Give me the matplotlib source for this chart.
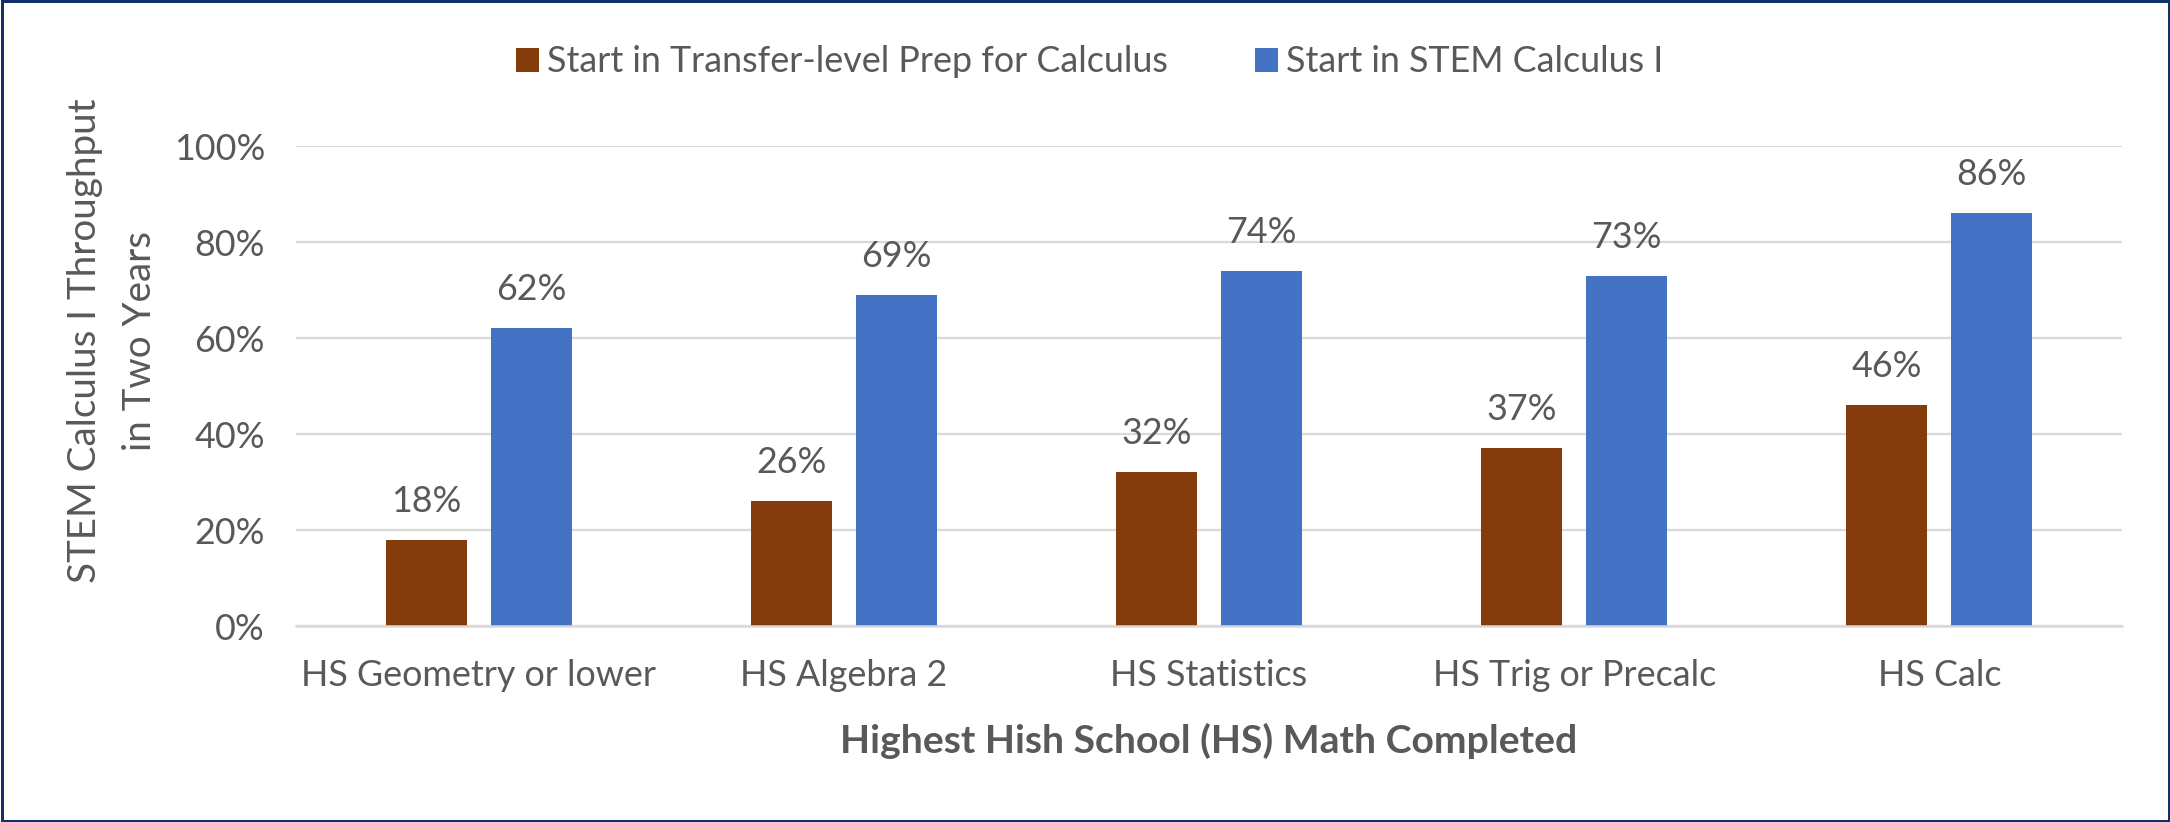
import matplotlib
matplotlib.use('Agg')
import matplotlib.pyplot as plt
from matplotlib.patches import Patch, Rectangle
from matplotlib.font_manager import FontProperties
import numpy as np

# ---------------- data ----------------
categories = ["HS Geometry or lower", "HS Algebra 2", "HS Statistics",
              "HS Trig or Precalc", "HS Calc"]
prep_values = [18, 26, 32, 37, 46]
calc_values = [62, 69, 74, 73, 86]
series_names = ["Start in Transfer-level Prep for Calculus", "Start in STEM Calculus I"]
y_ticks = [0, 20, 40, 60, 80, 100]
y_tick_labels = ["0%", "20%", "40%", "60%", "80%", "100%"]
x_title = "Highest Hish School (HS) Math Completed"
y_title_lines = ["STEM Calculus I Throughput", "in Two Years"]

# ---------------- style ----------------
W, H, DPI = 2170, 822, 100
FAM = ['Lato', 'DejaVu Sans']
TEXT = '#595959'
BROWN = '#843C0C'
BLUE = '#4472C4'
GRID = '#D9D9D9'
BORDER = '#112F6B'
PX2PT = 72 / DPI

plt.rcParams['font.family'] = FAM

fig = plt.figure(figsize=(W / DPI, H / DPI), dpi=DPI)
fig.patch.set_facecolor('white')
renderer = fig.canvas.get_renderer()


def fit_pt(sample, target_px, weight='normal'):
    fp = FontProperties(family=FAM, size=100, weight=weight)
    w, h, d = renderer.get_text_width_height_descent(sample, fp, ismath=False)
    return 100 * target_px / w


fs_small = fit_pt(series_names[0], 620)
fs_title = fit_pt(y_title_lines[1], 220)
fs_bold = fit_pt("Highest Hish School", 351, 'bold')
fs_small_px = fs_small / PX2PT

# ---------------- axes ----------------
ax_l, ax_r, ax_t, ax_b = 296, 2122, 146, 626
ax = fig.add_axes([ax_l / W, 1 - ax_b / H, (ax_r - ax_l) / W, (ax_b - ax_t) / H])

x = np.arange(len(categories))
bar_w = 0.222
off = 0.1438
ax.bar(x - off, prep_values, bar_w, color=BROWN, zorder=3, label=series_names[0])
ax.bar(x + off, calc_values, bar_w, color=BLUE, zorder=3, label=series_names[1])

ax.set_xlim(-0.5, len(categories) - 0.5)
ax.set_ylim(0, 100)
ax.set_yticks(y_ticks, y_tick_labels)
ax.set_xticks(x, categories)
ax.yaxis.grid(True, color=GRID, lw=1.6, zorder=0)
ax.set_axisbelow(True)
for s in ['top', 'right', 'left']:
    ax.spines[s].set_visible(False)
ax.spines['bottom'].set_color(GRID)
ax.spines['bottom'].set_linewidth(1.8)
ax.spines['bottom'].set_zorder(4)
ax.tick_params(axis='both', length=0, labelsize=fs_small, labelcolor=TEXT)
ax.tick_params(axis='y', pad=31 * PX2PT)
ax.tick_params(axis='x', pad=33 * PX2PT)

for xi, v in zip(x - off, prep_values):
    ax.annotate(f"{v}%", xy=(xi, v), xytext=(0, 28 * PX2PT), textcoords='offset points',
                ha='center', va='baseline', fontsize=fs_small, color=TEXT)
for xi, v in zip(x + off, calc_values):
    ax.annotate(f"{v}%", xy=(xi, v), xytext=(0, 28 * PX2PT), textcoords='offset points',
                ha='center', va='baseline', fontsize=fs_small, color=TEXT)

# ---------------- titles ----------------
fig.text((ax_l + ax_r) / 2 / W, 1 - 753 / H, x_title, ha='center', va='baseline',
         fontsize=fs_bold, fontweight='bold', color=TEXT)
fig.text(85 / W, 1 - 341 / H, y_title_lines[0], rotation=90, ha='center', va='center',
         fontsize=fs_title, color=TEXT)
fig.text(140 / W, 1 - 341 / H, y_title_lines[1], rotation=90, ha='center', va='center',
         fontsize=fs_title, color=TEXT)

# ---------------- legend ----------------
handles = [Patch(facecolor=BROWN), Patch(facecolor=BLUE)]
fig.legend(handles, series_names, loc='center', bbox_to_anchor=(1090 / W, 1 - 62 / H),
           ncol=2, frameon=False, fontsize=fs_small, labelcolor=TEXT,
           handlelength=23 / fs_small_px, handleheight=23 / fs_small_px,
           handletextpad=8 / fs_small_px, columnspacing=87 / fs_small_px,
           borderpad=0, borderaxespad=0)

# ---------------- border ----------------
fig.patches.append(Rectangle((1.5 / W, 1.5 / H), 1 - 3 / W, 1 - 3 / H,
                             transform=fig.transFigure, fill=False,
                             edgecolor=BORDER, lw=3 * PX2PT, zorder=10))

fig.savefig('out.png', dpi=DPI, facecolor='white')
